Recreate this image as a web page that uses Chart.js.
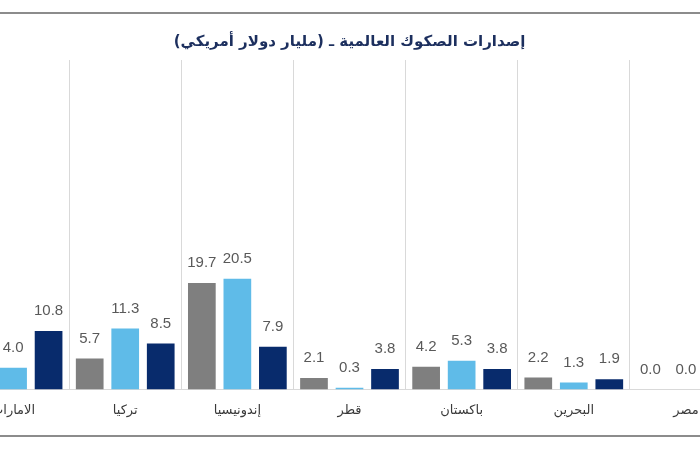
<!DOCTYPE html>
<html>
<head>
<meta charset="utf-8">
<script src="https://cdn.jsdelivr.net/npm/chart.js@4/dist/chart.umd.min.js"></script>
<style>
  html, body { margin: 0; padding: 0; background: #fff; }
  #wrap { position: relative; width: 700px; height: 450px; overflow: hidden; background: #fff; }
  #chart { position: absolute; left: -43px; top: 0; }
  .rule { position: absolute; left: 0; width: 700px; height: 2px; background: #8c8c8c; }
</style>
</head>
<body>
<div id="wrap">
  <canvas id="chart" width="785" height="450" dir="rtl"></canvas>
  <div class="rule" style="top:12px"></div>
  <div class="rule" style="top:435px"></div>
</div>
<script>
// categories, left to right as drawn
const categories = ["الامارات", "تركيا", "إندونيسيا", "قطر", "باكستان", "البحرين", "مصر"];

// three series (gray, light blue, navy); first UAE and last Egypt bars sit outside the crop
const seriesNames = ["2021", "2022", "2023"];
const grayValues = [7.0, 5.7, 19.7, 2.1, 4.2, 2.2, 0.0];
const lightValues = [4.0, 11.3, 20.5, 0.3, 5.3, 1.3, 0.0];
const navyValues = [10.8, 8.5, 7.9, 3.8, 3.8, 1.9, 1.5];

const colors = ["#7f7f7f", "#5fbbe8", "#082b6c"];

// value labels above each bar
const valueLabels = {
    id: "valueLabels",
    afterDatasetsDraw(chart) {
        const ctx = chart.ctx;
        ctx.save();
        ctx.font = "15px 'Liberation Sans', Arial, sans-serif";
        ctx.fillStyle = "#595959";
        ctx.textAlign = "center";
        ctx.textBaseline = "middle";
        ctx.direction = "ltr";
        chart.data.datasets.forEach((ds, i) => {
            const meta = chart.getDatasetMeta(i);
            meta.data.forEach((bar, j) => {
                ctx.fillText(ds.data[j].toFixed(1), bar.x, bar.y - 20);
            });
        });
        ctx.restore();
    }
};

new Chart(document.getElementById("chart"), {
    type: "bar",
    data: {
        labels: categories,
        datasets: [
            { label: seriesNames[0], data: grayValues, backgroundColor: colors[0] },
            { label: seriesNames[1], data: lightValues, backgroundColor: colors[1] },
            { label: seriesNames[2], data: navyValues, backgroundColor: colors[2] }
        ]
    },
    options: {
        responsive: false,
        maintainAspectRatio: false,
        animation: false,
        layout: { padding: { top: 0, bottom: 19, left: 0, right: 0 } },
        datasets: {
            bar: { categoryPercentage: 0.95, barPercentage: 0.78 }
        },
        plugins: {
            legend: { display: false },
            tooltip: { enabled: false },
            title: {
                display: true,
                text: "إصدارات الصكوك العالمية ـ (مليار دولار أمريكي)",
                color: "#1c2f5e",
                font: { family: "'DejaVu Sans', sans-serif", size: 15, weight: "bold" },
                padding: { top: 33, bottom: 9 }
            }
        },
        scales: {
            x: {
                grid: { display: true, offset: true, color: "#d9d9d9", drawTicks: false },
                border: { display: true, color: "#d9d9d9" },
                ticks: {
                    color: "#3a3a3a",
                    padding: 13,
                    font: { family: "'DejaVu Sans', sans-serif", size: 13 }
                }
            },
            y: {
                display: false,
                min: 0,
                max: 61
            }
        }
    },
    plugins: [valueLabels]
});
</script>
</body>
</html>
